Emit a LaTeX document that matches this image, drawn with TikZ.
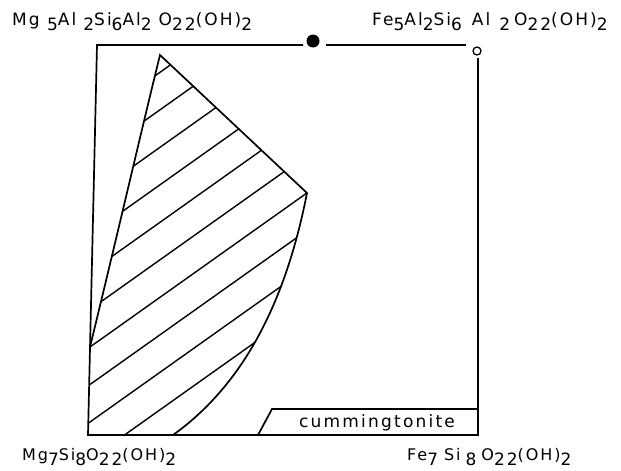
\documentclass[tikz,border=0pt]{standalone}
\usepackage{fontspec}
\setmainfont{DejaVu Sans}
\newfontfamily\labfont[LetterSpace=12]{DejaVu Sans}
\newfontfamily\cumfont[LetterSpace=13]{DejaVu Sans}
\newcommand{\dn}[1]{\raisebox{-5pt}{\fontsize{17}{17}\selectfont #1}}
\newcommand{\gap}[1]{\hspace{#1pt}}
\tikzset{
  frame/.style={line width=1.7pt},
  hatch/.style={line width=1.4pt},
  formula/.style={anchor=base west, inner sep=0pt, font=\labfont\fontsize{16}{18}\selectfont},
  bigformula/.style={formula, font=\labfont\fontsize{17}{18}\selectfont}
}
\begin{document}
\begin{tikzpicture}[x=1pt, y=-1pt]
  \useasboundingbox (0,0) rectangle (621,471);
  % corners of the frame
  \coordinate (tl) at (97,45);
  \coordinate (bl) at (88,435);
  \coordinate (br) at (478,435);
  \coordinate (rt) at (478,58);
  \coordinate (gapl) at (303,45);
  \coordinate (gapr) at (326,45);
  \coordinate (topr) at (466,45);
  \node[circle, fill, inner sep=0pt, minimum size=13pt] (dot) at (313,41) {};
  \node[circle, draw, line width=1.3pt, inner sep=0pt, minimum size=8pt] (fe) at (477,51) {};
  \draw[frame] (gapl) -- (tl) -- (bl) -- (br) -- (rt);
  \draw[frame] (gapr) -- (topr);
  % field of the hatched region
  \coordinate (apex) at (160,55);
  \coordinate (knee) at (307,193);
  \coordinate (foot) at (173,435);
  \coordinate (lside) at (90,347);
  \draw[frame] (lside) .. controls (118,232) and (142,128) .. (apex) -- (knee)
    .. controls (288,290) and (250,380) .. (foot);
  \begin{scope}
    \clip (lside) .. controls (118,232) and (142,128) .. (apex) -- (knee)
      .. controls (288,290) and (250,380) .. (foot) -- (bl) -- cycle;
    \foreach \c in {122,159.5,...,460} {
        \draw[hatch] (80,\c+7.1) -- (330,\c-170.4);
      }
  \end{scope}
  % cummingtonite field
  \coordinate (cl) at (258,435);
  \coordinate (ct) at (272,409);
  \coordinate (cr) at (478,409);
  \draw[frame] (cl) -- (ct) -- (cr);
  \node[font=\cumfont\fontsize{17}{18}\selectfont] (cum) at (377,423) {cummingtonite};
  % end members
  \node[bigformula] (mgal) at (12,25)
    {Mg \dn{5}Al\gap{7}\dn{2}Si\dn{6}Al\dn{2}\gap{7}O\dn{22}(OH)\dn{2}};
  \node[bigformula] (feal) at (372,25)
    {Fe\dn{5}Al\dn{2}Si\dn{6}\gap{10}Al\gap{9}\dn{2}\gap{4}O\dn{22}(OH)\dn{2}};
  \node[formula] (mgsi) at (22,460) {Mg\dn{7}Si\dn{8}O\dn{22}(OH)\dn{2}};
  \node[formula] (fesi) at (407,460)
    {Fe\dn{7}\gap{6}Si\gap{5}\dn{8}\gap{5}O\dn{22}(OH)\dn{2}};
\end{tikzpicture}
\end{document}
